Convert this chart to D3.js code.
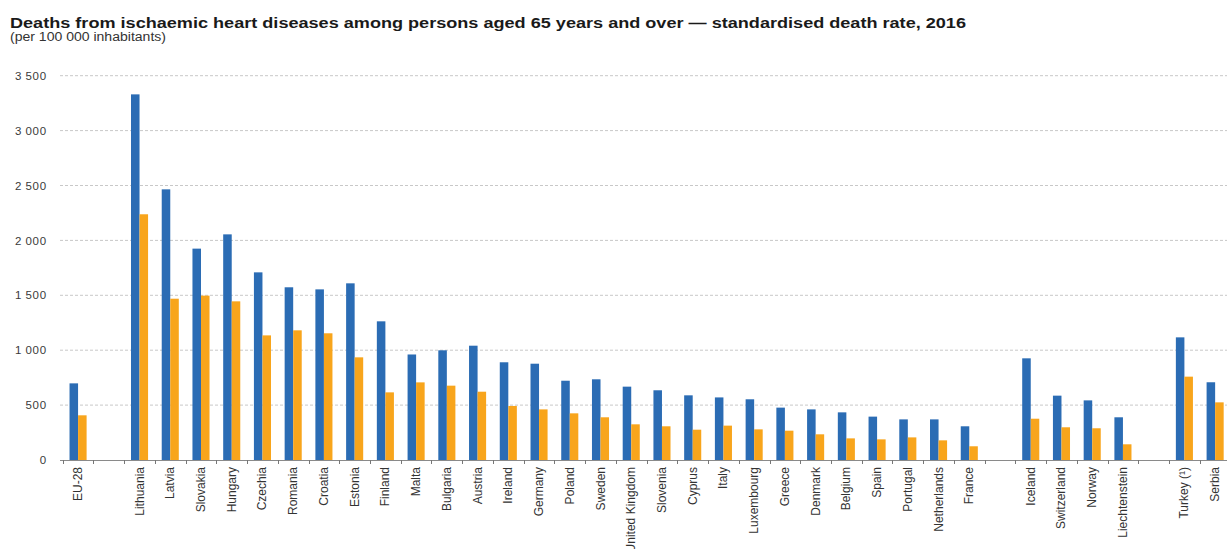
<!DOCTYPE html>
<html>
<head>
<meta charset="utf-8">
<script src="https://cdn.jsdelivr.net/npm/d3@7/dist/d3.min.js"></script>
<style>
  html, body { margin: 0; padding: 0; background: #fff; }
  svg { display: block; font-family: "Liberation Sans", Arial, sans-serif; }
</style>
</head>
<body>
<svg id="chart" width="1227" height="549"></svg>
<script>
// Category slots along the x axis; empty names mark the spacer slots between groups
const categories = [
  "EU-28", "", "Lithuania", "Latvia", "Slovakia", "Hungary", "Czechia", "Romania",
  "Croatia", "Estonia", "Finland", "Malta", "Bulgaria", "Austria", "Ireland",
  "Germany", "Poland", "Sweden", "United Kingdom", "Slovenia", "Cyprus", "Italy",
  "Luxembourg", "Greece", "Denmark", "Belgium", "Spain", "Portugal", "Netherlands",
  "France", "", "Iceland", "Switzerland", "Norway", "Liechtenstein", "",
  "Turkey (¹)", "Serbia"
];

const seriesNames = ["Males", "Females"];

// Standardised death rate per 100 000 inhabitants (null for spacer slots)
const males = [
  698, null, 3330, 2465, 1925, 2055, 1709, 1573,
  1554, 1609, 1263, 961, 999, 1041, 890,
  877, 722, 735, 668, 635, 589, 570,
  553, 477, 461, 434, 395, 370, 370,
  307, null, 926, 586, 543, 389, null,
  1117, 708
];
const females = [
  407, null, 2238, 1469, 1497, 1445, 1135, 1181,
  1154, 935, 616, 707, 677, 622, 492,
  461, 425, 389, 325, 307, 276, 313,
  279, 267, 234, 197, 188, 206, 179,
  125, null, 376, 298, 289, 143, null,
  759, 525
];

const yTicks = [0, 500, 1000, 1500, 2000, 2500, 3000, 3500];

const titleText = "Deaths from ischaemic heart diseases among persons aged 65 years and over \u2014 standardised death rate, 2016";
const subtitleText = "(per 100 000 inhabitants)";

const colors = { Males: "#2b6cb4", Females: "#f8a51c" };

const svg = d3.select("#chart");
const W = 1227;

svg.append("rect").attr("width", W).attr("height", 549).attr("fill", "#fff");

// Titles
svg.append("text")
  .attr("x", 10).attr("y", 28)
  .attr("font-size", 14).attr("font-weight", "bold").attr("fill", "#1a1a1a")
  .attr("textLength", 956).attr("lengthAdjust", "spacingAndGlyphs")
  .text(titleText);
svg.append("text")
  .attr("x", 10).attr("y", 41)
  .attr("font-size", 12).attr("fill", "#333")
  .attr("textLength", 156).attr("lengthAdjust", "spacingAndGlyphs")
  .text(subtitleText);

// Scales
const slotKeys = categories.map((c, i) => i);
const x0 = d3.scaleBand().domain(slotKeys).range([62.7, 1230.5]).padding(0);
const x1 = d3.scaleBand().domain(seriesNames).range([0, x0.bandwidth()])
  .paddingInner(0).paddingOuter(0.8);
const y = d3.scaleLinear().domain([0, 3500]).range([460, 75.7]);

// Horizontal gridlines
svg.append("g")
  .selectAll("line")
  .data(yTicks.filter(t => t > 0))
  .join("line")
  .attr("x1", 60).attr("x2", W)
  .attr("y1", d => y(d)).attr("y2", d => y(d))
  .attr("stroke", "#c8c8c8").attr("stroke-width", 1)
  .attr("stroke-dasharray", "3,2");

// Y axis labels
const yAxis = d3.axisLeft(y)
  .tickValues(yTicks)
  .tickSize(0)
  .tickPadding(0)
  .tickFormat(d => d3.format(",")(d).replace(/,/g, "\u2009"));
const yg = svg.append("g").attr("transform", "translate(47,0)").call(yAxis);
yg.select(".domain").remove();
yg.selectAll("text")
  .attr("font-size", 11.5).attr("fill", "#3a3a3a")
  .attr("font-family", "\"Liberation Sans\", Arial, sans-serif")
  .attr("letter-spacing", "0.8px");

// Bars
const rows = categories.map((c, i) => ({ i, name: c, Males: males[i], Females: females[i] }))
  .filter(r => r.Males != null);

const groups = svg.append("g")
  .selectAll("g")
  .data(rows)
  .join("g")
  .attr("transform", d => `translate(${x0(d.i)},0)`);

groups.selectAll("rect")
  .data(d => seriesNames.map(s => ({ s, v: d[s] })))
  .join("rect")
  .attr("x", d => x1(d.s))
  .attr("width", x1.bandwidth())
  .attr("y", d => y(d.v))
  .attr("height", d => y(0) - y(d.v))
  .attr("fill", d => colors[d.s]);

// X axis line with ticks at slot boundaries
const xg = svg.append("g");
xg.append("line")
  .attr("x1", 60).attr("x2", W)
  .attr("y1", 460.5).attr("y2", 460.5)
  .attr("stroke", "#8a8a8a").attr("stroke-width", 1);
xg.selectAll("line.tick")
  .data(slotKeys)
  .join("line")
  .attr("class", "tick")
  .attr("x1", d => Math.round(x0(d)) + 0.5).attr("x2", d => Math.round(x0(d)) + 0.5)
  .attr("y1", 460).attr("y2", 464)
  .attr("stroke", "#777");

// Rotated category labels
xg.selectAll("text")
  .data(rows)
  .join("text")
  .attr("transform", d => `translate(${x0(d.i) + x0.bandwidth() / 2 + 4},467) rotate(-90)`)
  .attr("text-anchor", "end")
  .attr("font-size", 12).attr("fill", "#333")
  .text(d => d.name);
</script>
</body>
</html>
